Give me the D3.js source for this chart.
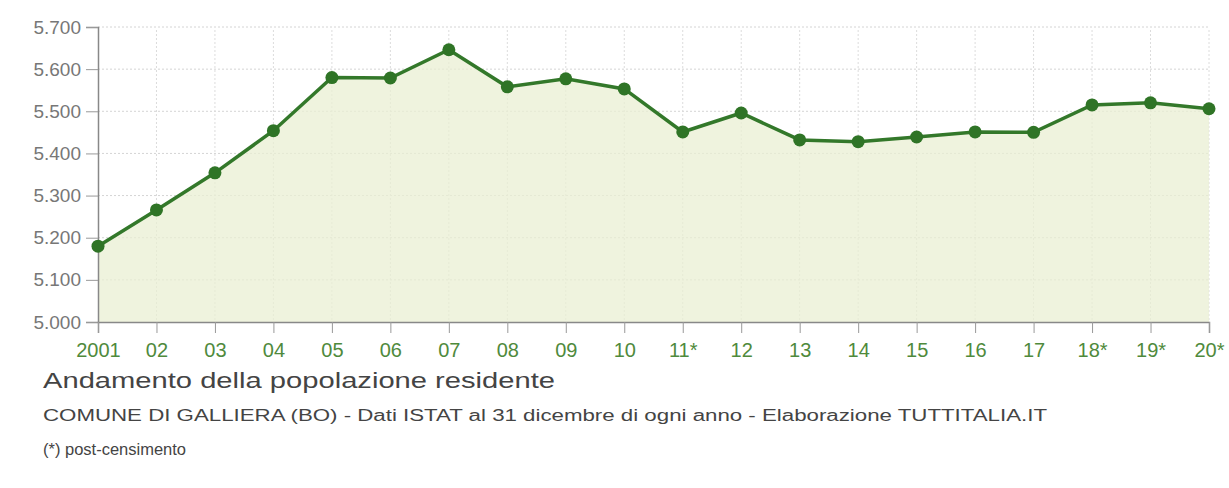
<!DOCTYPE html>
<html>
<head>
<meta charset="utf-8">
<script src="https://cdn.jsdelivr.net/npm/d3@7"></script>
<style>
  body { margin: 0; background: #fff; }
  svg { display: block; font-family: "Liberation Sans", Arial, sans-serif; }
</style>
</head>
<body>
<svg id="chart" width="1229" height="488"></svg>
<script>
// data
const years = [2001, 2002, 2003, 2004, 2005, 2006, 2007, 2008, 2009, 2010,
  2011, 2012, 2013, 2014, 2015, 2016, 2017, 2018, 2019, 2020];
const yearLabels = ["2001", "02", "03", "04", "05", "06", "07", "08", "09", "10",
  "11*", "12", "13", "14", "15", "16", "17", "18*", "19*", "20*"];
const population = [5180, 5266, 5354, 5454, 5580, 5579, 5646, 5558, 5577, 5553,
  5451, 5496, 5432, 5428, 5439, 5451, 5450, 5515, 5520, 5506];
const yTicks = [5000, 5100, 5200, 5300, 5400, 5500, 5600, 5700];

const svg = d3.select("#chart");
const plotLeft = 98, plotRight = 1209, plotTop = 27, plotBottom = 322;

const x = d3.scaleLinear().domain([2001, 2020]).range([plotLeft, plotRight]);
const y = d3.scaleLinear().domain([5000, 5700]).range([plotBottom, plotTop]);

// italian thousands separator
const fmt = (v) => d3.format(",")(v).replace(",", ".");

// grid
const grid = svg.append("g");
grid.selectAll("line.h")
  .data(yTicks.slice(1))
  .enter().append("line")
  .attr("x1", plotLeft).attr("x2", plotRight)
  .attr("y1", (d) => y(d)).attr("y2", (d) => y(d))
  .attr("stroke", "#d4d4d4").attr("stroke-dasharray", "2,2");
grid.selectAll("line.v")
  .data(years.slice(1))
  .enter().append("line")
  .attr("x1", (d) => x(d)).attr("x2", (d) => x(d))
  .attr("y1", plotTop + 3).attr("y2", plotBottom)
  .attr("stroke", "#dcdcdc").attr("stroke-dasharray", "2,2");

// area
const area = d3.area()
  .x((d, i) => x(years[i]))
  .y0(plotBottom)
  .y1((d) => y(d));
svg.append("path")
  .datum(population)
  .attr("d", area)
  .attr("fill", "#e9efd3")
  .attr("fill-opacity", 0.75);

// y axis
const yAxis = svg.append("g")
  .attr("transform", `translate(${plotLeft},0)`)
  .call(d3.axisLeft(y).tickValues(yTicks).tickSize(12).tickPadding(5).tickFormat(fmt));
yAxis.select(".domain").attr("stroke", "#888").attr("stroke-width", 1.5);
yAxis.selectAll(".tick line").attr("stroke", "#999");
yAxis.selectAll(".tick text")
  .attr("fill", "#777")
  .attr("font-size", 19)
  .attr("font-family", "Liberation Sans, Arial, sans-serif");

// x axis
const xAxis = svg.append("g")
  .attr("transform", `translate(0,${plotBottom})`)
  .call(d3.axisBottom(x).tickValues(years).tickSize(11).tickPadding(10)
    .tickFormat((d, i) => yearLabels[i]));
xAxis.select(".domain").attr("stroke", "#888").attr("stroke-width", 1.5);
xAxis.selectAll(".tick line").attr("stroke", "#999");
xAxis.selectAll(".tick text")
  .attr("fill", "#4f8a3c")
  .attr("font-size", 20)
  .attr("font-family", "Liberation Sans, Arial, sans-serif");

// line + points
const line = d3.line()
  .x((d, i) => x(years[i]))
  .y((d) => y(d));
svg.append("path")
  .datum(population)
  .attr("d", line)
  .attr("fill", "none")
  .attr("stroke", "#33782a")
  .attr("stroke-width", 3.5);
svg.selectAll("circle.pt")
  .data(population)
  .enter().append("circle")
  .attr("class", "pt")
  .attr("cx", (d, i) => x(years[i]))
  .attr("cy", (d) => y(d))
  .attr("r", 6.5)
  .attr("fill", "#2f7426");

// captions (the source text is set wide, so stretch glyphs to its width)
svg.append("text")
  .attr("x", 43).attr("y", 388)
  .attr("font-size", 22).attr("fill", "#444")
  .attr("textLength", 512).attr("lengthAdjust", "spacingAndGlyphs")
  .text("Andamento della popolazione residente");
svg.append("text")
  .attr("x", 43).attr("y", 421)
  .attr("font-size", 16).attr("fill", "#444")
  .attr("textLength", 1004).attr("lengthAdjust", "spacingAndGlyphs")
  .text("COMUNE DI GALLIERA (BO) - Dati ISTAT al 31 dicembre di ogni anno - Elaborazione TUTTITALIA.IT");
svg.append("text")
  .attr("x", 43).attr("y", 455)
  .attr("font-size", 16).attr("fill", "#444")
  .attr("textLength", 143).attr("lengthAdjust", "spacingAndGlyphs")
  .text("(*) post-censimento");
</script>
</body>
</html>
